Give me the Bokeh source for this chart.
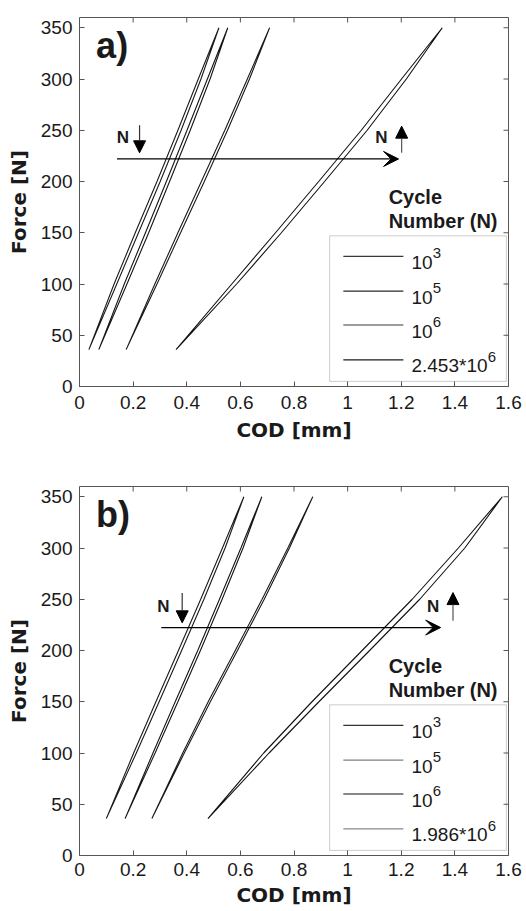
import math
from bokeh.plotting import figure
from bokeh.models import (FixedTicker, Label, Arrow, VeeHead,
                          NormalHead, Range1d, BoxAnnotation)
from bokeh.layouts import column
from bokeh.embed import file_html
from bokeh.resources import INLINE

# ---------------- data ----------------
force_pts = [36, 100, 150, 200, 250, 300, 350]

x_ticks = [0, 0.2, 0.4, 0.6, 0.8, 1.0, 1.2, 1.4, 1.6]
x_tick_labels = ["0", "0.2", "0.4", "0.6", "0.8", "1", "1.2", "1.4", "1.6"]
y_ticks = [0, 50, 100, 150, 200, 250, 300, 350]

# panel a) : COD centre line of each hysteresis loop (mm) at force_pts
a_cod_1e3 = [0.035, 0.134, 0.214, 0.295, 0.373, 0.448, 0.520]
a_cod_1e5 = [0.072, 0.172, 0.252, 0.330, 0.407, 0.482, 0.553]
a_cod_1e6 = [0.174, 0.285, 0.372, 0.460, 0.547, 0.630, 0.709]
a_cod_end = [0.360, 0.577, 0.742, 0.903, 1.062, 1.210, 1.353]
# loop opening (loading - unloading branch) in mm
a_gap_1e3 = [0.0, 0.010, 0.012, 0.012, 0.012, 0.010, 0.0]
a_gap_1e5 = [0.0, 0.010, 0.012, 0.012, 0.012, 0.010, 0.0]
a_gap_1e6 = [0.0, 0.008, 0.010, 0.011, 0.010, 0.008, 0.0]
a_gap_end = [0.0, 0.018, 0.022, 0.022, 0.022, 0.018, 0.0]
a_names = ["10", "10", "10", "2.453*10"]
a_exps = ["3", "5", "6", "6"]
a_legend_colors = ["#3a3a3a", "#2a2a2a", "#3a3a3a", "#1a1a1a"]

# panel b)
b_cod_1e3 = [0.100, 0.207, 0.291, 0.375, 0.458, 0.538, 0.613]
b_cod_1e5 = [0.170, 0.278, 0.362, 0.446, 0.527, 0.606, 0.680]
b_cod_1e6 = [0.270, 0.388, 0.484, 0.585, 0.685, 0.780, 0.870]
b_cod_end = [0.479, 0.697, 0.880, 1.068, 1.255, 1.425, 1.577]
b_gap_1e3 = [0.0, 0.010, 0.012, 0.012, 0.012, 0.010, 0.0]
b_gap_1e5 = [0.0, 0.008, 0.010, 0.010, 0.010, 0.008, 0.0]
b_gap_1e6 = [0.0, 0.006, 0.008, 0.008, 0.008, 0.006, 0.0]
b_gap_end = [0.0, 0.020, 0.026, 0.028, 0.028, 0.024, 0.0]
b_names = ["10", "10", "10", "1.986*10"]
b_exps = ["3", "5", "6", "6"]
b_legend_colors = ["#333333", "#808080", "#111111", "#8a8a8a"]

curve_colors = ["#1a1a1a", "#151515", "#1a1a1a", "#111111"]

FONT = "Liberation Sans"
BOLD_FONT = "DejaVu Sans"
FRAME = "#555555"
TXT = "#1a1a1a"


def make_panel(letter, mids, gaps, legend_colors, names, exps, harrow, darrow,
               uarrow, n_left, n_right, height, top, bottom, xstand, xlstand):
    p = figure(width=526, height=height, x_range=Range1d(0, 1.6),
               y_range=Range1d(0, 360), output_backend="svg",
               toolbar_location=None, min_border_left=79,
               min_border_right=18, min_border_top=top,
               min_border_bottom=bottom)
    p.grid.visible = False
    p.outline_line_color = FRAME
    p.outline_line_width = 1
    p.background_fill_color = "white"
    p.border_fill_color = "white"

    # hysteresis loops
    for mid, gap, col in zip(mids, gaps, curve_colors):
        load = [m + g / 2 for m, g in zip(mid, gap)]
        unload = [m - g / 2 for m, g in zip(mid, gap)]
        xs = load + unload[::-1]
        ys = force_pts + force_pts[::-1]
        p.line(xs, ys, line_color=col, line_width=1.1)

    # axes styling
    p.xaxis.ticker = FixedTicker(ticks=x_ticks)
    p.xaxis.major_label_overrides = {t: l for t, l in zip(x_ticks, x_tick_labels)}
    p.yaxis.ticker = FixedTicker(ticks=y_ticks)
    for ax in (p.xaxis[0], p.yaxis[0]):
        ax.axis_line_color = None
        ax.major_tick_in = 5
        ax.major_tick_out = 0
        ax.minor_tick_line_color = None
        ax.major_tick_line_color = FRAME
        ax.major_label_text_font = FONT
        ax.major_label_text_font_size = "19px"
        ax.major_label_text_color = TXT
        ax.axis_label_text_font = BOLD_FONT
        ax.axis_label_text_font_size = "20px"
        ax.axis_label_text_font_style = "bold"
        ax.axis_label_text_color = TXT
    p.xaxis.axis_label = "COD [mm]"
    p.yaxis.axis_label = "Force [N]"
    p.xaxis.major_label_standoff = xstand
    p.xaxis.axis_label_standoff = xlstand
    p.yaxis.major_label_standoff = 7
    p.yaxis.axis_label_standoff = 7

    # inward ticks on the top and right edges of the box
    p.ray(x=x_ticks, y=[360] * len(x_ticks), length=5, length_units="screen",
          angle=-math.pi / 2, line_color=FRAME, line_width=1)
    p.ray(x=[1.6] * len(y_ticks), y=y_ticks, length=5, length_units="screen",
          angle=math.pi, line_color=FRAME, line_width=1)

    # panel letter
    p.add_layout(Label(x=0.062, y=333, text=letter, text_font=FONT,
                       text_font_size="36px", text_font_style="bold",
                       text_baseline="middle", text_color=TXT))

    # arrows
    p.add_layout(Arrow(end=VeeHead(size=15, fill_color="black", line_color="black"),
                       x_start=harrow[0], x_end=harrow[1], y_start=harrow[2],
                       y_end=harrow[2], line_width=1.2, line_color="black"))
    p.add_layout(Arrow(end=NormalHead(size=12, fill_color="black", line_color="black"),
                       x_start=darrow[0], x_end=darrow[0], y_start=darrow[1],
                       y_end=darrow[2], line_width=1.2, line_color="#333333"))
    p.add_layout(Arrow(end=NormalHead(size=12, fill_color="black", line_color="black"),
                       x_start=uarrow[0], x_end=uarrow[0], y_start=uarrow[1],
                       y_end=uarrow[2], line_width=1.2, line_color="#555555"))
    for nx, ny in (n_left, n_right):
        p.add_layout(Label(x=nx, y=ny, text="N", text_font=FONT,
                           text_font_size="17px", text_font_style="bold",
                           text_align="center", text_baseline="middle",
                           text_color=TXT))

    # legend
    p.add_layout(Label(x=1.153, y=185, text="Cycle", text_font=FONT,
                       text_font_size="20px", text_font_style="bold",
                       text_baseline="middle", text_color=TXT))
    p.add_layout(Label(x=1.153, y=161, text="Number (N)", text_font=FONT,
                       text_font_size="20px", text_font_style="bold",
                       text_baseline="middle", text_color=TXT))
    p.add_layout(BoxAnnotation(left=0.933, right=1.592, bottom=5, top=147,
                               fill_color=None, line_color=FRAME, line_width=1,
                               level="overlay"))
    rows = [127, 93, 60, 26]
    for ry, col, nm, ex in zip(rows, legend_colors, names, exps):
        p.segment(x0=[0.984], x1=[1.208], y0=[ry], y1=[ry], line_color=col,
                  line_width=1.2)
        p.add_layout(Label(x=1.238, y=ry, y_offset=-6, text=nm, text_font=FONT,
                           text_font_size="19px", text_baseline="middle",
                           text_color=TXT))
        w = 10.6 * len(nm.replace(".", "").replace("*", "")) + \
            5.3 * nm.count(".") + 7.4 * nm.count("*")
        p.add_layout(Label(x=1.238, y=ry, x_offset=w, y_offset=3, text=ex,
                           text_font=FONT, text_font_size="15px",
                           text_baseline="middle", text_color=TXT))
    return p


pa = make_panel("a)", [a_cod_1e3, a_cod_1e5, a_cod_1e6, a_cod_end],
                [a_gap_1e3, a_gap_1e5, a_gap_1e6, a_gap_end], a_legend_colors,
                a_names, a_exps,
                harrow=(0.14, 1.19, 222), darrow=(0.224, 255, 228),
                uarrow=(1.2015, 228, 254), n_left=(0.162, 243),
                n_right=(1.126, 243), height=455, top=17, bottom=69,
                xstand=9, xlstand=6)
pb = make_panel("b)", [b_cod_1e3, b_cod_1e5, b_cod_1e6, b_cod_end],
                [b_gap_1e3, b_gap_1e5, b_gap_1e6, b_gap_end], b_legend_colors,
                b_names, b_exps,
                harrow=(0.305, 1.347, 222.4), darrow=(0.383, 256, 227),
                uarrow=(1.393, 229, 256.5), n_left=(0.313, 242.6),
                n_right=(1.319, 242.6), height=456, top=31, bottom=56,
                xstand=7, xlstand=4)

layout = column(pa, pb, spacing=0)
open("out.html", "w").write(file_html(layout, INLINE))
